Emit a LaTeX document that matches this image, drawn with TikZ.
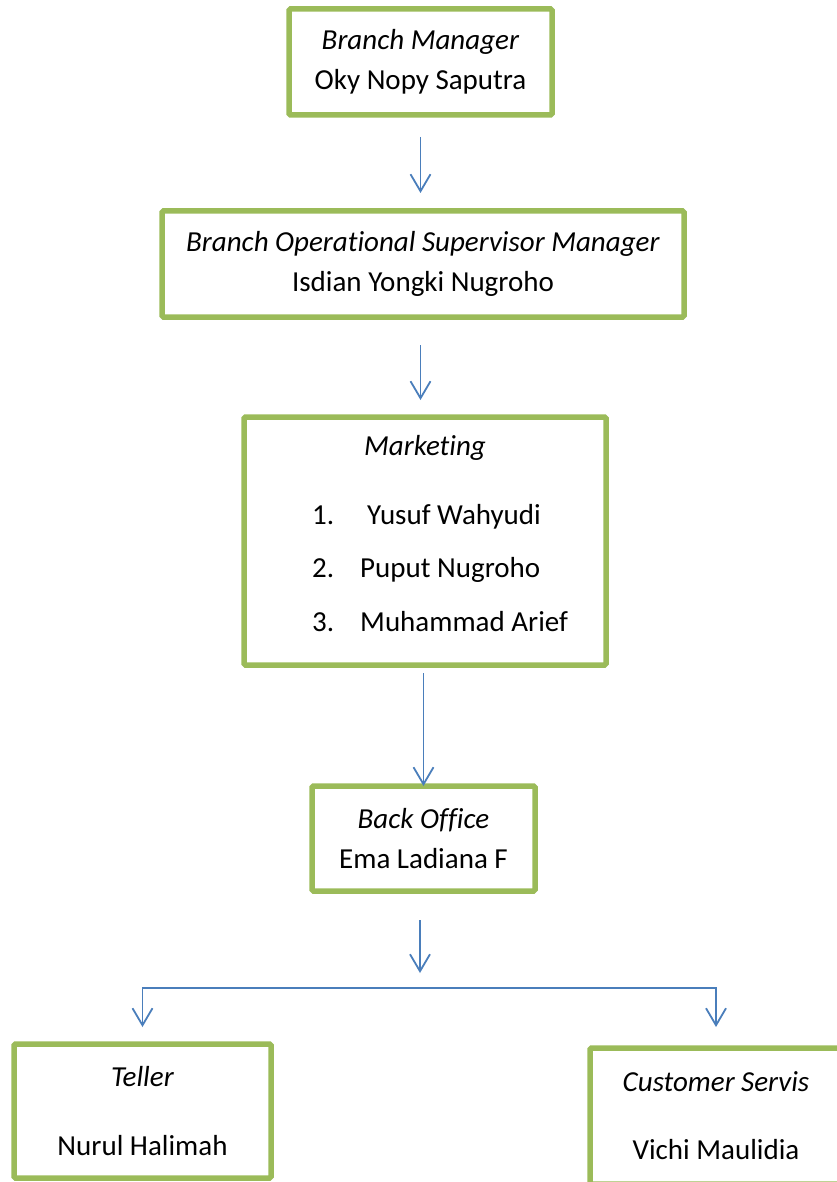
\documentclass[tikz,border=0pt]{standalone}
\usepackage{fontspec}
\setmainfont[Ligatures=NoCommon]{Carlito}
\usetikzlibrary{arrows.meta}
\definecolor{boxgreen}{HTML}{9BBB59}
\definecolor{linkblue}{HTML}{4A7EBB}

\begin{document}
\begin{tikzpicture}[x=1pt, y=-1pt,
		box/.style={draw=boxgreen, line width=5.5pt, rounded corners=1.5pt, outer sep=0pt, inner sep=0pt, align=center, font=\fontsize{29}{40}\selectfont},
		txt/.style={inner sep=0pt, font=\fontsize{29}{40}\selectfont},
		arr/.style={draw=linkblue, line width=1.8pt, -{Straight Barb[length=17pt,width=20pt]}}]
		\useasboundingbox ( 0, 0 ) rectangle ( 837, 1182 );

		% Branch Manager
		\node [box, minimum width=263pt, minimum height=106pt] (bm) at ( 420.5, 62 ) {\textit{Branch Manager}\\Oky Nopy Saputra};

		% Branch Operational Supervisor Manager
		\node [box, minimum width=522pt, minimum height=106pt] (bos) at ( 423, 264 ) {\textit{Branch Operational Supervisor Manager}\\Isdian Yongki Nugroho};

		% Marketing
		\node [box, minimum width=362pt, minimum height=248pt] (mkt) at ( 425, 541 ) {};
		\node [txt, anchor=base] (mkttitle) at ( 425, 455 ) {\textit{Marketing}};
		\node [txt, anchor=base west] (mktno1) at ( 312, 524 ) {1.};
		\node [txt, anchor=base west] (mkt1) at ( 367, 524 ) {Yusuf Wahyudi};
		\node [txt, anchor=base west] (mktno2) at ( 312, 577 ) {2.};
		\node [txt, anchor=base west] (mkt2) at ( 360, 577 ) {Puput Nugroho};
		\node [txt, anchor=base west] (mktno3) at ( 312, 631 ) {3.};
		\node [txt, anchor=base west] (mkt3) at ( 360, 631 ) {Muhammad Arief};

		% Back Office
		\node [box, minimum width=223pt, minimum height=105pt] (bo) at ( 423.5, 838.5 ) {\textit{Back Office}\\Ema Ladiana F};

		% Teller, Customer Servis
		\node [box, minimum width=257pt, minimum height=134pt] (tel) at ( 142.5, 1111 ) {\textit{Teller}\\[29pt]Nurul Halimah};
		\node [box, minimum width=252pt, minimum height=136pt] (cs) at ( 716, 1116 ) {\textit{Customer Servis}\\[28pt]Vichi Maulidia};

		% panah
		\draw [arr, shorten <=22pt, shorten >=18pt] (bm.south) -- (bm.south |- bos.north);
		\draw [arr, shorten <=28pt, shorten >=17pt] (bm.south |- bos.south) -- (bm.south |- mkt.north);
		\draw [arr, shorten <=8pt] (bo.north |- mkt.south) -- (bo.north);
		\coordinate (fork) at ( 420, 988 );
		\draw [arr, shorten <=29pt, shorten >=15pt] (bo.south -| fork) -- (fork);
		\draw [arr, shorten >=17pt] (fork) -| (tel.north);
		\draw [arr, shorten >=21pt] (fork) -| (cs.north);
	\end{tikzpicture}
\end{document}
